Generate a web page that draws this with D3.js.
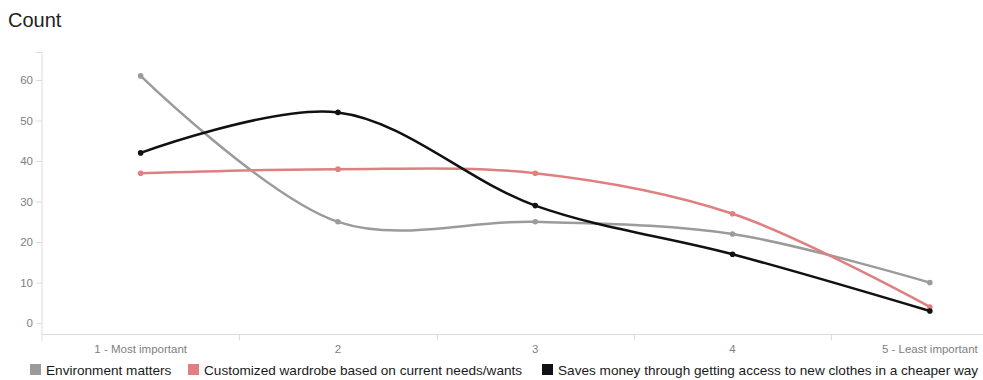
<!DOCTYPE html>
<html>
<head>
<meta charset="utf-8">
<script src="https://cdn.jsdelivr.net/npm/d3@7/dist/d3.min.js"></script>
<style>
  html, body { margin: 0; padding: 0; background: #fff; }
  svg { display: block; font-family: "Liberation Sans", Arial, sans-serif; }
</style>
</head>
<body>
<svg id="chart" width="983" height="380"></svg>
<script>
// Ranking categories (1 = most important)
const categories = ["1 - Most important", "2", "3", "4", "5 - Least important"];

// Counts per ranking for each reason
const environment = [61, 25, 25, 22, 10];
const customized = [37, 38, 37, 27, 4];
const savesMoney = [42, 52, 29, 17, 3];

const seriesNames = [
  "Environment matters",
  "Customized wardrobe based on current needs/wants",
  "Saves money through getting access to new clothes in a cheaper way"
];
const seriesValues = [environment, customized, savesMoney];
const seriesColors = ["#9b9b9b", "#e07f7f", "#111111"];

const yTicks = [0, 10, 20, 30, 40, 50, 60];

const svg = d3.select("#chart");

const left = 42, bandStep = 197.3;
const x = d3.scaleBand()
  .domain(categories)
  .range([left, left + bandStep * categories.length])
  .padding(0);

const y = d3.scaleLinear()
  .domain([-2.8, 66.9])
  .range([334.5, 52]);

// Title
svg.append("text")
  .attr("x", 8).attr("y", 27)
  .attr("font-size", 20).attr("fill", "#222")
  .text("Count");

// Y axis
const yAxis = svg.append("g")
  .attr("transform", `translate(${left},0)`)
  .call(d3.axisLeft(y).tickValues(yTicks).tickSize(6).tickSizeOuter(0).tickPadding(3));
yAxis.select(".domain").remove();
yAxis.append("line")
  .attr("x1", 0).attr("x2", 0)
  .attr("y1", 52).attr("y2", 341)
  .attr("stroke", "#dcdcdc");
yAxis.append("line")
  .attr("x1", -6).attr("x2", 0)
  .attr("y1", 52.5).attr("y2", 52.5)
  .attr("stroke", "#dcdcdc");
yAxis.selectAll(".tick line").attr("stroke", "#dcdcdc");
yAxis.selectAll(".tick text").attr("fill", "#808080").attr("font-size", 11.5);

// X axis
const xBase = 334.5;
const xAxis = svg.append("g");
xAxis.append("line")
  .attr("x1", left).attr("x2", 983)
  .attr("y1", xBase).attr("y2", xBase)
  .attr("stroke", "#dcdcdc");
xAxis.selectAll("line.tick")
  .data(categories.slice(1))
  .join("line")
  .attr("class", "tick")
  .attr("x1", d => Math.round(x(d)) + 0.5)
  .attr("x2", d => Math.round(x(d)) + 0.5)
  .attr("y1", xBase).attr("y2", xBase + 6)
  .attr("stroke", "#dcdcdc");
xAxis.selectAll("text")
  .data(categories)
  .join("text")
  .attr("x", d => x(d) + x.bandwidth() / 2)
  .attr("y", 353)
  .attr("text-anchor", "middle")
  .attr("font-size", 11.5)
  .attr("fill", "#808080")
  .text(d => d);

// Lines and points
const line = d3.line()
  .x((d, i) => x(categories[i]) + x.bandwidth() / 2)
  .y(d => y(d))
  .curve(d3.curveCatmullRom.alpha(0.5));

seriesValues.forEach((vals, s) => {
  const g = svg.append("g");
  g.append("path")
    .datum(vals)
    .attr("d", line)
    .attr("fill", "none")
    .attr("stroke", seriesColors[s])
    .attr("stroke-width", 2.5);
  g.selectAll("circle")
    .data(vals)
    .join("circle")
    .attr("cx", (d, i) => x(categories[i]) + x.bandwidth() / 2)
    .attr("cy", d => y(d))
    .attr("r", 2.8)
    .attr("fill", seriesColors[s]);
});

// Legend
const legendX = [30, 188, 542];
const legend = svg.append("g");
seriesNames.forEach((name, i) => {
  legend.append("rect")
    .attr("x", legendX[i]).attr("y", 364)
    .attr("width", 11).attr("height", 11)
    .attr("fill", seriesColors[i]);
  legend.append("text")
    .attr("x", legendX[i] + 16).attr("y", 374.5)
    .attr("font-size", 13.6)
    .attr("fill", "#1a1a1a")
    .text(name);
});
</script>
</body>
</html>
